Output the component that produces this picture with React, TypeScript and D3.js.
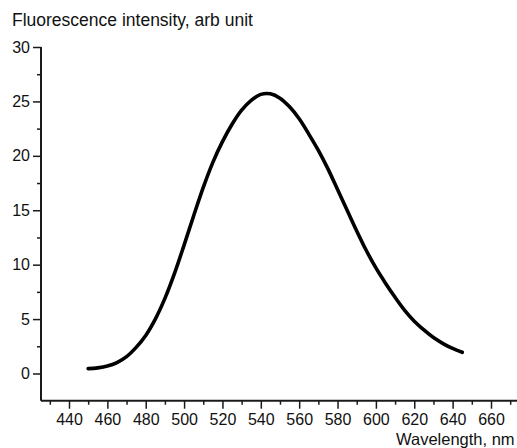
import { useEffect, useRef } from 'react'
import * as d3 from 'd3'

// spectrum
const wavelengths = [
  450, 455, 460, 465, 470, 475, 480, 485, 490, 495, 500, 505, 510, 515, 520,
  525, 530, 535, 540, 545, 550, 555, 560, 565, 570, 575, 580, 585, 590, 595,
  600, 605, 610, 615, 620, 625, 630, 635, 640, 645,
]
const intensity = [
  0.45, 0.52, 0.68, 1.0, 1.55, 2.4, 3.5, 5.0, 6.9, 9.2, 11.8, 14.5, 17.1, 19.4,
  21.3, 22.9, 24.2, 25.1, 25.65, 25.7, 25.3, 24.5, 23.4, 22.0, 20.5, 18.8, 16.9,
  15.0, 13.1, 11.3, 9.7, 8.3, 7.0, 5.8, 4.8, 4.0, 3.3, 2.75, 2.3, 1.95,
]
const xMajorTicks = [440, 460, 480, 500, 520, 540, 560, 580, 600, 620, 640, 660]
const xMinorTicks = [430, 450, 470, 490, 510, 530, 550, 570, 590, 610, 630, 650, 670]
const yMajorTicks = [0, 5, 10, 15, 20, 25, 30]
const yMinorTicks = [2.5, 7.5, 12.5, 17.5, 22.5, 27.5]

const WIDTH = 517
const HEIGHT = 448
const AXIS_COLOR = '#1a1a1a'
const FONT = '"Liberation Sans", Arial, sans-serif'

export default function App() {
  const ref = useRef<SVGSVGElement>(null)

  useEffect(() => {
    const svgEl = ref.current
    if (!svgEl) return
    const svg = d3.select(svgEl)
    svg.selectAll('*').remove()

    const x = d3.scaleLinear().domain([440, 660]).range([69, 491])
    const y = d3.scaleLinear().domain([0, 30]).range([373.5, 47])

    const x0 = x.invert(41)
    const yBottom = -2.5

    // y axis
    const yAxis = svg.append('g').attr('transform', `translate(${x(x0)},0)`)
    yAxis
      .append('g')
      .call(d3.axisLeft(y).tickValues(yMinorTicks).tickSize(4).tickFormat(() => '').tickSizeOuter(0))
      .call((s) => s.select('.domain').remove())
    yAxis
      .append('g')
      .call(d3.axisLeft(y).tickValues(yMajorTicks).tickSize(8).tickPadding(3).tickSizeOuter(0))
      .call((s) => s.select('.domain').remove())
    yAxis
      .append('line')
      .attr('y1', y(30))
      .attr('y2', y(yBottom))
      .attr('stroke', AXIS_COLOR)
      .attr('stroke-width', 2)

    // x axis
    const xAxis = svg.append('g').attr('transform', `translate(0,${y(yBottom)})`)
    xAxis
      .append('g')
      .call(d3.axisBottom(x).tickValues(xMinorTicks).tickSize(4).tickFormat(() => '').tickSizeOuter(0))
      .call((s) => s.select('.domain').remove())
    xAxis
      .append('g')
      .call(d3.axisBottom(x).tickValues(xMajorTicks).tickSize(8).tickPadding(5).tickSizeOuter(0))
      .call((s) => s.select('.domain').remove())
    xAxis
      .append('line')
      .attr('x1', x(x0))
      .attr('x2', WIDTH)
      .attr('stroke', AXIS_COLOR)
      .attr('stroke-width', 2)

    svg.selectAll('.tick line').attr('stroke', AXIS_COLOR).attr('stroke-width', 1.5)
    svg
      .selectAll('.tick text')
      .attr('fill', '#111')
      .style('font-family', FONT)
      .style('font-size', '16px')

    const pts = wavelengths.map((w, i) => [w, intensity[i]] as [number, number])
    const line = d3
      .line<[number, number]>()
      .x((d) => x(d[0]))
      .y((d) => y(d[1]))
      .curve(d3.curveCatmullRom)

    svg
      .append('path')
      .datum(pts)
      .attr('d', line)
      .attr('fill', 'none')
      .attr('stroke', '#000')
      .attr('stroke-width', 3.6)
      .attr('stroke-linecap', 'round')

    svg
      .append('text')
      .attr('x', 12)
      .attr('y', 26)
      .attr('fill', '#111')
      .style('font-family', FONT)
      .style('font-size', '17.5px')
      .text('Fluorescence intensity, arb unit')

    svg
      .append('text')
      .attr('x', 396)
      .attr('y', 445)
      .attr('fill', '#111')
      .style('font-family', FONT)
      .style('font-size', '16.5px')
      .text('Wavelength, nm')
  }, [])

  return (
    <svg
      ref={ref}
      width={WIDTH}
      height={HEIGHT}
      style={{ position: 'absolute', left: 0, top: 0, background: '#fff' }}
    />
  )
}
